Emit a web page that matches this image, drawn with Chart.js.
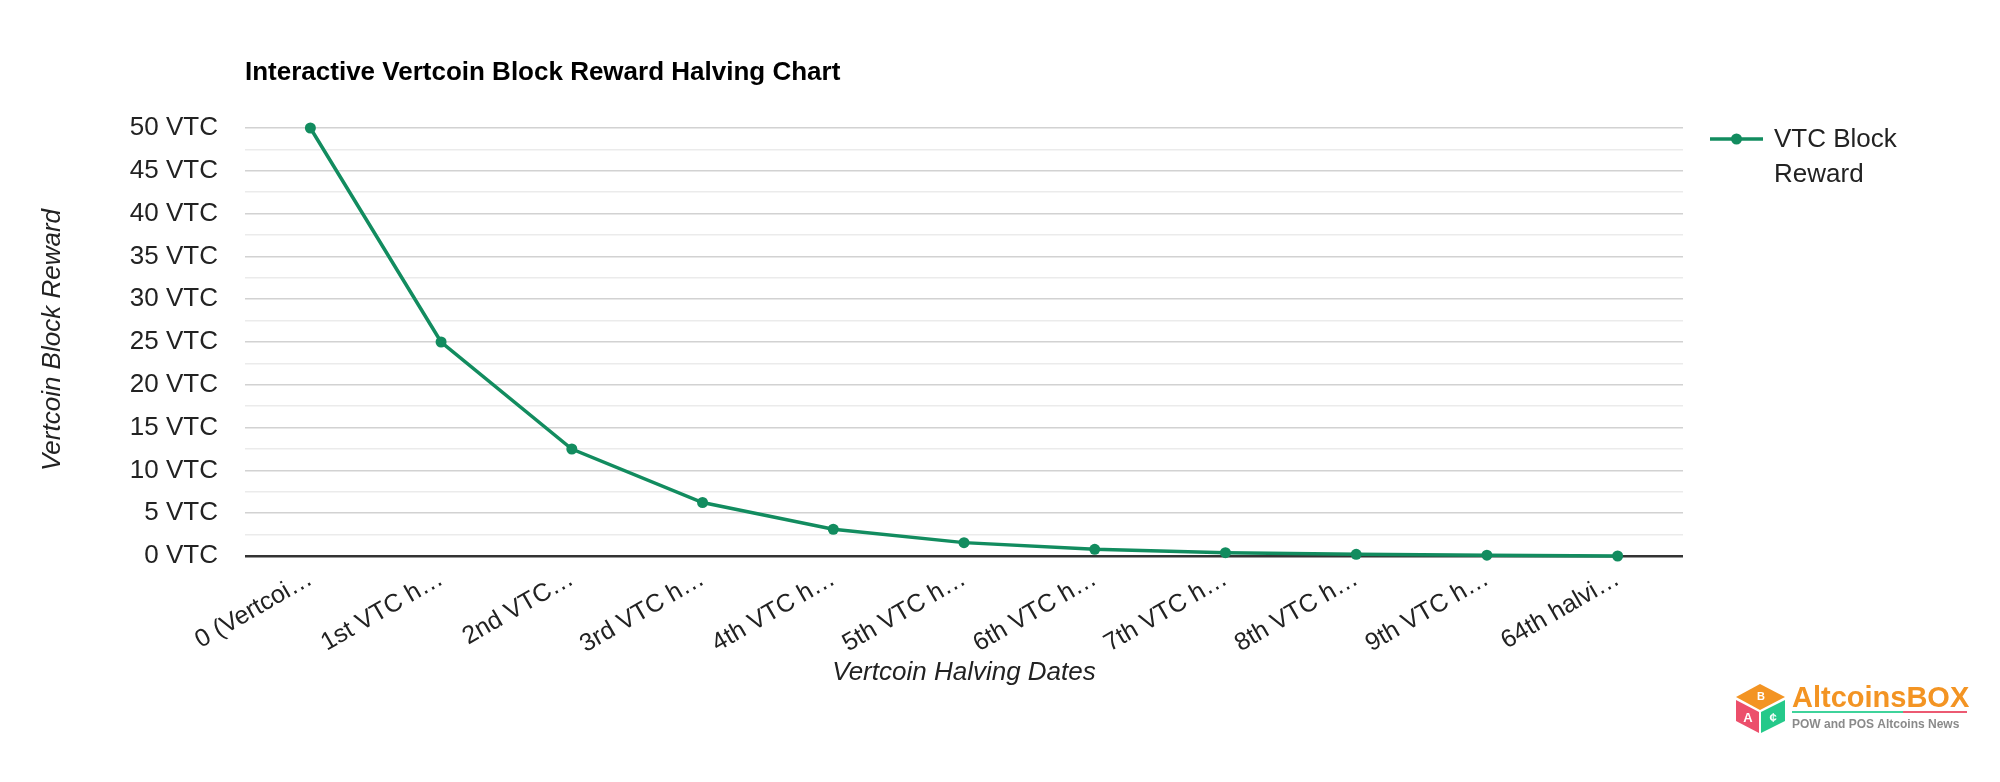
<!DOCTYPE html>
<html>
<head>
<meta charset="utf-8">
<style>
  html, body { margin: 0; padding: 0; background: #ffffff; }
  #wrap { position: relative; width: 2000px; height: 782px; }
  canvas { display: block; }
</style>
<script src="https://cdn.jsdelivr.net/npm/chart.js@4.4.1/dist/chart.umd.min.js"></script>
</head>
<body>
<div id="wrap"><canvas id="c" width="2000" height="782"></canvas></div>
<script>
// ---- data ----
const categories = ["0 (Vertcoi\u2026", "1st VTC h\u2026", "2nd VTC\u2026", "3rd VTC h\u2026", "4th VTC h\u2026", "5th VTC h\u2026", "6th VTC h\u2026", "7th VTC h\u2026", "8th VTC h\u2026", "9th VTC h\u2026", "64th halvi\u2026"];
const rewardValues = [50, 25, 12.5, 6.25, 3.125, 1.5625, 0.78125, 0.390625, 0.1953125, 0.09765625, 0];
const seriesName = ["VTC Block", "Reward"];
const chartTitle = "Interactive Vertcoin Block Reward Halving Chart";
const yAxisTitle = "Vertcoin Block Reward";
const xAxisTitle = "Vertcoin Halving Dates";
const tickSuffix = " VTC";
const brandName = "AltcoinsBOX";
const brandTagline = "POW and POS Altcoins News";

const FONT = '"Liberation Sans", Arial, sans-serif';
const GREEN = '#128c5f';

function poly(ctx, pts, color) {
  ctx.fillStyle = color;
  ctx.beginPath();
  ctx.moveTo(pts[0][0], pts[0][1]);
  for (let i = 1; i < pts.length; i++) ctx.lineTo(pts[i][0], pts[i][1]);
  ctx.closePath();
  ctx.fill();
}

const decorPlugin = {
  id: 'decor',
  afterDraw(chart) {
    const ctx = chart.ctx;
    const area = chart.chartArea;
    ctx.save();
    // title
    ctx.fillStyle = '#000';
    ctx.font = 'bold 26px ' + FONT;
    ctx.textAlign = 'left';
    ctx.textBaseline = 'middle';
    ctx.fillText(chartTitle, area.left, 73);
    // x-axis title
    ctx.fillStyle = '#222';
    ctx.font = 'italic 26px ' + FONT;
    ctx.textAlign = 'center';
    ctx.fillText(xAxisTitle, (area.left + area.right) / 2, 673);
    // y-axis title
    ctx.save();
    ctx.translate(53, (area.top + area.bottom) / 2 - 2);
    ctx.rotate(-Math.PI / 2);
    ctx.fillText(yAxisTitle, 0, 0);
    ctx.restore();
    // legend
    ctx.strokeStyle = GREEN;
    ctx.lineWidth = 3.5;
    ctx.beginPath();
    ctx.moveTo(1710, 139);
    ctx.lineTo(1763, 139);
    ctx.stroke();
    ctx.fillStyle = GREEN;
    ctx.beginPath();
    ctx.arc(1736.5, 139, 5.5, 0, Math.PI * 2);
    ctx.fill();
    ctx.fillStyle = '#222';
    ctx.font = '26px ' + FONT;
    ctx.textAlign = 'left';
    ctx.fillText(seriesName[0], 1774, 140);
    ctx.fillText(seriesName[1], 1774, 175);

    // brand watermark (bottom right)
    poly(ctx, [[1736, 697], [1760, 684], [1785, 697], [1760, 710]], '#f39423');
    poly(ctx, [[1736, 700], [1759, 712], [1759, 733], [1736, 721]], '#ec4f6b');
    poly(ctx, [[1761, 712], [1785, 700], [1785, 721], [1761, 733]], '#25c98a');
    ctx.fillStyle = '#fff';
    ctx.font = 'bold 11px ' + FONT;
    ctx.textAlign = 'center';
    ctx.fillText('B', 1761, 697);
    ctx.font = 'bold 13px ' + FONT;
    ctx.fillText('A', 1748, 718);
    ctx.fillText('\u00A2', 1773, 718);
    ctx.textAlign = 'left';
    ctx.fillStyle = '#f39423';
    ctx.font = 'bold 29px ' + FONT;
    ctx.textBaseline = 'alphabetic';
    ctx.fillText(brandName, 1792, 707);
    ctx.fillStyle = '#3fd39b';
    ctx.fillRect(1792, 711, 111, 2);
    ctx.fillStyle = '#ec5a72';
    ctx.fillRect(1903, 711, 64, 2);
    ctx.fillStyle = '#8a8a8a';
    ctx.font = 'bold 12px ' + FONT;
    ctx.fillText(brandTagline, 1792, 728);
    ctx.restore();
  }
};

new Chart(document.getElementById('c'), {
  type: 'line',
  data: {
    labels: categories,
    datasets: [{
      label: seriesName.join(' '),
      data: rewardValues,
      borderColor: GREEN,
      backgroundColor: GREEN,
      borderWidth: 3.5,
      pointRadius: 5.5,
      pointHoverRadius: 5.5,
      pointBackgroundColor: GREEN,
      pointBorderWidth: 0,
      tension: 0,
      clip: false
    }]
  },
  options: {
    responsive: false,
    animation: false,
    devicePixelRatio: 1,
    layout: { padding: { top: 128, right: 317, bottom: 0, left: 0 } },
    plugins: {
      legend: { display: false },
      title: { display: false },
      tooltip: { enabled: false }
    },
    scales: {
      x: {
        type: 'category',
        offset: true,
        grid: { display: false, drawTicks: false },
        border: { display: false },
        ticks: {
          autoSkip: false,
          maxRotation: 30,
          minRotation: 30,
          padding: 8,
          color: '#222',
          font: { family: FONT, size: 25 }
        },
        afterFit(scale) { scale.height = 226; }
      },
      y: {
        min: 0,
        max: 50,
        grid: {
          drawTicks: false,
          color(ctx) {
            const v = ctx.tick ? ctx.tick.value : 0;
            if (v === 0) return '#333333';
            return (v % 5 === 0) ? '#d2d2d2' : '#ebebeb';
          },
          lineWidth(ctx) {
            const v = ctx.tick ? ctx.tick.value : 0;
            return v === 0 ? 2.5 : 1.6;
          }
        },
        border: { display: false },
        ticks: {
          stepSize: 2.5,
          autoSkip: false,
          padding: 27,
          color: '#222',
          font: { family: FONT, size: 26 },
          callback(value) { return (value % 5 === 0) ? value + tickSuffix : ''; }
        },
        afterFit(scale) { scale.width = 245; }
      }
    }
  },
  plugins: [decorPlugin]
});
</script>
</body>
</html>
